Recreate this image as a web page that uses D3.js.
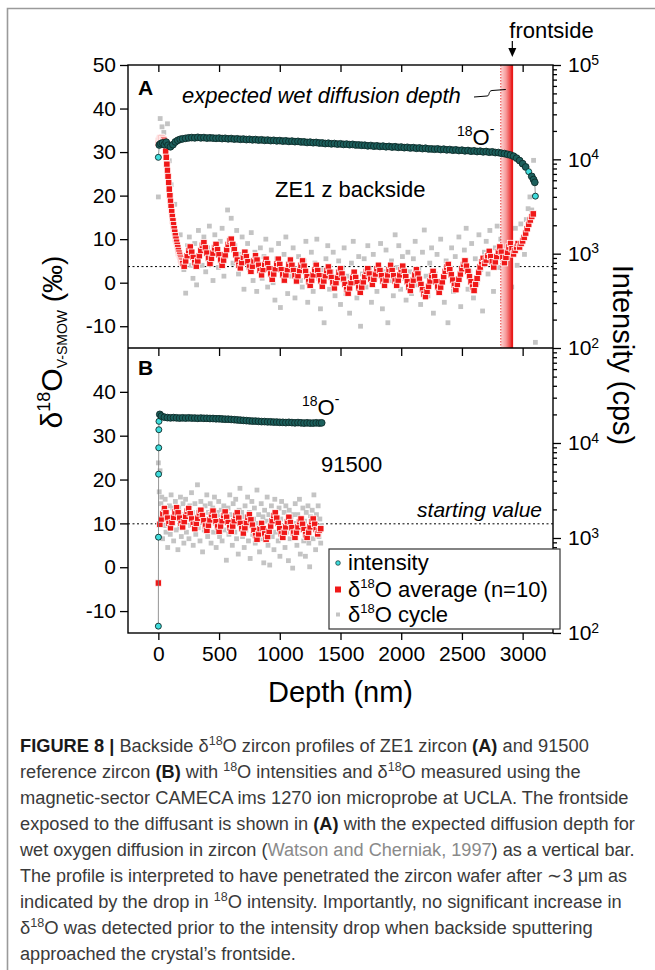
<!DOCTYPE html>
<html><head><meta charset="utf-8">
<script src="https://cdn.jsdelivr.net/npm/d3@7"></script>
<style>
html,body{margin:0;padding:0;background:#fff;}
svg{display:block;font-family:"Liberation Sans",Arial,sans-serif;}
</style></head><body>
<svg id="fig" width="655" height="970"></svg>
<script>
// ---------------- DATA ----------------
const depthTicks = [0, 500, 1000, 1500, 2000, 2500, 3000];
const deltaTicksA = [-10, 0, 10, 20, 30, 40, 50];
const deltaTicksB = [-10, 0, 10, 20, 30, 40];
const intensityTicksA = [1e2, 1e3, 1e4, 1e5];
const intensityTicksB = [1e2, 1e3, 1e4];
const intensityMinor = [2e2,3e2,4e2,5e2,6e2,7e2,8e2,9e2,2e3,3e3,4e3,5e3,6e3,7e3,8e3,9e3,2e4,3e4,4e4,5e4,6e4,7e4,8e4,9e4];
const depthDomain = [-250, 3250];
const deltaDomain = [-15, 50];
const intensityDomain = [1e2, 1e5];

// Panel A (ZE1 z backside) : 18O- intensity [depth nm, cps]
const intensityA = [[0,10500],[8,14200],[20,14700],[35,14900],[50,14300],[65,15200],[80,14100],[100,13600],[120,14300],[140,15300],[160,15900],[180,16300],[200,16500],[225,16700],[250,16900],[275,17000],[300,16900],[325,17100],[350,16900],[375,17000],[400,16800],[425,16900],[450,16800],[475,16700],[500,16800],[525,16600],[550,16700],[575,16500],[600,16600],[625,16400],[650,16500],[675,16300],[700,16400],[725,16200],[750,16300],[775,16100],[800,16200],[825,16000],[850,16100],[875,15900],[900,16000],[925,15800],[950,15900],[975,15700],[1000,15800],[1025,15600],[1050,15700],[1075,15500],[1100,15600],[1125,15400],[1150,15500],[1175,15300],[1200,15300],[1225,15100],[1250,15200],[1275,15000],[1300,15100],[1325,14900],[1350,14900],[1375,14700],[1400,14800],[1425,14600],[1450,14700],[1475,14500],[1500,14600],[1525,14400],[1550,14500],[1575,14300],[1600,14400],[1625,14200],[1650,14200],[1675,14100],[1700,14100],[1725,13900],[1750,14000],[1775,13800],[1800,13900],[1825,13700],[1850,13800],[1875,13600],[1900,13700],[1925,13500],[1950,13600],[1975,13400],[2000,13500],[2025,13300],[2050,13400],[2075,13200],[2100,13300],[2125,13100],[2150,13200],[2175,13000],[2200,13100],[2225,12900],[2250,12900],[2275,12800],[2300,12900],[2325,12700],[2350,12800],[2375,12600],[2400,12700],[2425,12500],[2450,12600],[2475,12400],[2500,12500],[2525,12300],[2550,12400],[2575,12200],[2600,12300],[2625,12100],[2650,12200],[2675,12000],[2700,12100],[2725,11900],[2750,12000],[2775,11800],[2800,11800],[2825,11600],[2850,11500],[2875,11300],[2900,11100],[2925,10800],[2950,10300],[2975,9700],[3000,9000],[3025,8300],[3050,7400],[3075,6600],[3090,6100],[3100,5700],[3105,4070]];
// Panel A: d18O average (n=10): steep initial drop, every 5 nm from 0 nm
const averageHeadStartA = 0, averageHeadStepA = 5;
const averageHeadA = [32.0,32.6,33.0,33.3,33.4,33.3,33.2,33.0,32.9,32.8,32.5,31.5,30.2,28.8,27.2,25.8,24.4,23.0,21.5,20.0,
  18.7,17.5,16.3,15.2,14.2,13.3,12.4,11.6,10.8,10.0,9.3,8.6,8.0,7.4,6.8,6.3,5.8,5.4,5.0,4.7,4.4];
// Panel A: d18O average (n=10), every 12.5 nm from 212.5 nm
const averageStartA = 212.5, averageStepA = 12.5;
const averageA = [3.8,5.0,6.2,7.4,8.2,7.0,5.8,
  4.6,3.8,5.0,6.2,7.4,8.6,9.2,8.0,6.8,5.6,4.4,5.6,6.8,8.0,8.8,7.6,6.4,5.2,4.0,5.2,6.4,7.6,8.8,9.6,
  10.0,8.8,7.6,6.4,5.2,4.0,3.4,4.6,5.8,7.0,6.0,4.8,3.6,2.6,3.8,5.0,6.2,5.2,4.0,2.8,1.8,3.0,4.2,5.4,
  4.4,3.2,2.0,0.8,2.0,3.2,4.4,5.4,4.2,3.0,1.8,0.6,1.8,3.0,4.2,5.2,4.0,2.8,1.6,0.4,1.6,2.8,4.0,5.0,
  3.8,2.6,1.4,0.2,-0.6,0.6,1.8,3.0,4.0,2.8,1.6,0.4,-0.8,0.4,1.6,2.8,3.6,2.4,1.2,0.0,-1.2,0.0,1.2,2.4,
  3.2,2.0,0.8,-0.4,-1.6,-2.4,-1.2,0.0,1.2,2.4,1.2,0.0,-1.2,-2.2,-1.0,0.2,1.4,2.6,3.2,2.0,0.8,-0.4,0.8,2.0,
  3.2,4.0,2.8,1.6,0.4,-0.6,0.6,1.8,3.0,4.0,2.8,1.6,0.4,-0.6,0.6,1.8,3.0,3.8,2.6,1.4,0.2,-1.0,-1.8,-0.6,
  0.6,1.8,3.0,2.0,0.8,-0.4,-1.6,-2.6,-3.2,-2.0,-0.8,0.4,1.6,2.6,1.4,0.2,-1.0,-2.2,-1.0,0.2,1.4,2.6,3.6,4.2,
  3.0,1.8,0.6,-0.6,-1.6,-0.4,0.8,2.0,3.2,4.2,5.0,3.8,2.6,1.4,0.2,-1.0,-1.8,-0.4,1.0,2.4,3.6,4.8,5.6,4.4,
  5.2,6.2,7.2,6.0,4.8,3.6,4.8,6.0,7.2,8.2,7.0,5.8,4.6,5.8,7.0,8.2,9.0,7.8,6.6,7.4,8.2,9.0,8.2,9.0,
  9.6,10.4,11.4,12.4,13.4,14.4,15.2,15.8];
// Panel A: d18O per cycle, one value every 15 nm from 0 nm
const cycleStartA = 0, cycleStepA = 15;
const cycleA = [19.7,37.7,35.8,34.5,30.0,36.5,28.0,22.5,12.8,18.0,9.5,7.0,11.0,5.5,3.0,-2.4,8.5,10.5,4.0,1.0,
  9.0,-0.5,12.0,6.5,4.0,10.5,2.5,8.0,13.0,5.0,0.5,11.0,7.5,3.5,9.5,12.5,1.5,6.0,16.7,10.0,
  14.8,4.5,8.5,12.0,2.0,6.5,10.5,-1.5,5.0,9.0,3.0,11.5,0.5,7.0,-2.0,4.5,8.0,1.0,6.0,10.0,
  -1.0,3.5,7.5,0.0,-4.0,5.5,9.0,-5.7,2.5,6.5,10.5,-2.5,4.0,1.5,8.0,-3.5,3.0,6.0,0.5,-1.0,
  5.0,9.5,-4.5,2.0,7.0,-2.0,4.5,10.0,1.0,-6.0,3.0,-9.2,5.5,8.5,-1.5,2.5,7.0,-3.0,0.0,5.0,
  -5.0,3.5,8.0,-2.5,1.5,-7.0,4.5,9.5,0.0,-3.5,6.0,-10.0,2.0,5.5,-1.0,8.5,3.0,-4.5,6.5,1.0,
  -2.0,4.0,9.0,-6.0,2.5,7.5,-9.2,0.5,5.0,-3.0,11.0,3.5,8.5,-1.5,6.0,1.0,-4.0,7.0,2.5,-2.5,
  5.5,9.5,-0.5,3.0,-5.0,7.0,12.1,1.5,-3.0,4.5,8.0,-7.0,2.0,6.5,-1.0,10.0,0.5,-4.5,5.0,-9.2,
  3.5,8.0,-2.0,6.0,1.0,10.5,-5.5,4.0,7.5,12.5,-1.5,2.5,9.0,-3.5,5.5,0.0,11.0,3.0,-6.5,7.0,
  9.5,2.0,12.0,5.0,-2.0,8.0,13.0,3.5,10.0,-3.9,6.5,11.5,1.0,9.0,-1.0,7.5,12.5,4.0,8.5,13.5,
  10.0,6.5,14.5,17.0,19.7,16.7,28.1,-13.7];

// Panel B (91500)
const intensityB = [[0,118],[1,1020],[2,4700],[3,8900],[4,13800],[5,16900],[12,20000],[25,19200],[50,18700],[75,18500],[100,18400],[125,18500],[150,18400],[175,18300],[200,18400],[225,18300],[250,18400],[275,18300],[300,18300],[325,18200],[350,18300],[375,18200],[400,18200],[425,18100],[450,18100],[475,18000],[500,18000],[525,17900],[550,17800],[575,17800],[600,17700],[625,17600],[650,17500],[675,17400],[700,17300],[725,17200],[750,17100],[775,17000],[800,17000],[825,16900],[850,16800],[875,16800],[900,16700],[925,16700],[950,16600],[975,16600],[1000,16500],[1025,16500],[1050,16400],[1075,16500],[1100,16400],[1125,16300],[1150,16400],[1175,16300],[1200,16200],[1225,16300],[1250,16200],[1275,16200],[1300,16300],[1325,16200],[1345,16300]];
const averageStartB = 0, averageStepB = 12.5;
const averageB = [-3.6,9.8,11.0,12.2,13.4,12.4,11.2,10.0,9.0,10.2,11.4,12.6,13.6,12.4,11.2,10.0,9.2,10.4,11.6,12.8,13.4,12.2,11.0,9.8,
  8.8,10.0,11.2,12.4,13.0,11.8,10.6,9.4,8.4,9.6,10.8,12.0,12.8,11.6,10.4,9.2,8.2,9.4,10.6,11.8,12.6,11.4,10.2,9.0,
  8.2,9.4,10.6,11.8,12.4,11.2,10.0,8.8,7.8,9.0,10.2,11.4,12.0,10.8,9.6,8.4,7.2,6.4,7.6,8.8,10.0,8.8,7.6,6.4,
  7.0,8.2,9.4,10.6,11.8,12.4,11.2,10.0,8.8,7.6,6.8,8.0,9.2,10.4,11.4,10.2,9.0,7.8,6.8,8.0,9.2,10.4,11.0,9.8,
  8.6,7.4,6.8,8.0,9.2,10.4,11.0,9.8,8.6,7.6,8.4,8.8];
const cycleStartB = 0, cycleStepB = 7;
const cycleB = [23.8,17.2,22.0,14.5,16.0,6.5,13.0,9.5,15.5,8.0,12.5,4.5,11.0,14.0,7.5,16.5,10.0,13.5,6.0,12.0,
  15.0,8.5,11.5,4.0,13.5,9.0,16.0,7.0,12.0,14.5,5.5,10.5,15.5,8.0,13.0,11.0,6.5,14.0,9.5,17.0,
  12.5,5.0,10.0,14.5,7.5,11.5,18.8,9.0,13.0,6.0,15.0,10.5,3.5,12.0,8.5,14.0,11.0,16.5,7.0,12.5,
  9.5,14.5,5.5,11.0,13.5,8.0,16.0,10.0,4.5,12.5,9.0,15.0,7.0,11.5,13.0,6.0,10.5,14.0,8.5,12.0,
  1.6,10.0,13.5,7.5,16.5,9.0,12.0,5.0,14.5,11.0,8.0,15.5,6.5,10.5,3.0,13.0,18.0,9.5,12.5,7.0,
  11.5,4.5,14.0,8.5,10.0,16.0,6.0,12.5,2.0,9.5,15.0,7.5,11.0,13.5,5.5,10.0,17.6,8.0,12.0,3.5,
  9.0,14.5,6.5,11.5,1.0,13.0,8.5,10.5,16.0,5.0,12.0,0.5,9.5,14.0,7.0,11.0,4.0,15.5,8.0,12.5,
  10.0,6.0,13.5,2.5,11.0,15.0,7.5,9.0,12.5,4.5,14.0,8.0,10.5,1.5,13.0,6.5,11.5,9.5,-0.2,12.0,
  7.5,14.5,10.0,5.0,12.0,8.5,15.5,3.0,11.0,9.0,13.5,6.0,10.5,2.5,12.5,8.0,14.0,5.5,0.1,11.5,
  9.0,13.0,6.5,16.5,10.5,4.0,12.0,8.5,14.0,7.0,11.0,5.5,9.5];

const startingValueA = 3.7;
const startingValueB = 9.9;
const diffusionBar = [2820, 2915];   // expected wet diffusion depth (nm)
const frontsideDepth = 2915;

const legendItems = ["intensity", "average", "cycle"];

const captionLines = [
  [["b","FIGURE 8 | "],["t","Backside δ"],["s","18"],["t","O zircon profiles of ZE1 zircon "],["b","(A)"],["t"," and 91500"]],
  [["t","reference zircon "],["b","(B)"],["t"," with "],["s","18"],["t","O intensities and δ"],["s","18"],["t","O measured using the"]],
  [["t","magnetic-sector CAMECA ims 1270 ion microprobe at UCLA. The frontside"]],
  [["t","exposed to the diffusant is shown in "],["b","(A)"],["t"," with the expected diffusion depth for"]],
  [["t","wet oxygen diffusion in zircon ("],["l","Watson and Cherniak, 1997"],["t",") as a vertical bar."]],
  [["t","The profile is interpreted to have penetrated the zircon wafer after ∼3 μm as"]],
  [["t","indicated by the drop in "],["s","18"],["t","O intensity. Importantly, no significant increase in"]],
  [["t","δ"],["s","18"],["t","O was detected prior to the intensity drop when backside sputtering"]],
  [["t","approached the crystal’s frontside."]]
];
const captionRight = [589, 581, 629, 635, 635, 627, 622, 593, 296];

// ---------------- LAYOUT ----------------
const P = {left:128, right:553, topA:65, mid:348, bottom:633};
const svg = d3.select("#fig");
const FS = 21;

const x = d3.scaleLinear().domain(depthDomain).range([P.left, P.right]);
const yA = d3.scaleLinear().domain(deltaDomain).range([P.mid, P.topA]);
const yB = d3.scaleLinear().domain(deltaDomain).range([P.bottom, P.mid]);
const iA = d3.scaleLog().domain(intensityDomain).range([P.mid, P.topA]);
const iB = d3.scaleLog().domain(intensityDomain).range([P.bottom, P.mid]);

svg.append("rect").attr("width",655).attr("height",970).attr("fill","#fff");
svg.append("path").attr("d","M7.5,970 V8.5 H655").attr("fill","none").attr("stroke","#9a9a9a").attr("stroke-width",1.6);

const defs = svg.append("defs");
defs.append("clipPath").attr("id","clipA").append("rect")
  .attr("x",P.left).attr("y",P.topA).attr("width",P.right-P.left).attr("height",P.mid-P.topA);
defs.append("clipPath").attr("id","clipB").append("rect")
  .attr("x",P.left).attr("y",P.mid).attr("width",P.right-P.left).attr("height",P.bottom-P.mid);
const grad = defs.append("linearGradient").attr("id","barGrad").attr("x1","0").attr("x2","1").attr("y1","0").attr("y2","0");
grad.append("stop").attr("offset","0%").attr("stop-color","#fcd6d6");
grad.append("stop").attr("offset","45%").attr("stop-color","#f79a9a");
grad.append("stop").attr("offset","80%").attr("stop-color","#ef4a4a");
grad.append("stop").attr("offset","100%").attr("stop-color","#e81e1e");

const GRAY = "#c4c4c4", RED = "#f01818", CYAN = "#3fdcdc", TEAL = "#1c5f5c", TEAL_STROKE = "#0c2b29";

function seq(vals, start, step) { return vals.map((v,i)=>[start+i*step, v]); }

function drawPanel(key, yS, iS, cyc, avg, inten, startVal, withBar) {
  const g = svg.append("g").attr("clip-path", `url(#clip${key})`);
  g.append("line").attr("x1",P.left).attr("x2",P.right)
    .attr("y1",yS(startVal)).attr("y2",yS(startVal))
    .attr("stroke","#000").attr("stroke-width",1).attr("stroke-dasharray","2,2.5");
  const cs = 4.8;
  g.append("g").selectAll("rect").data(cyc).join("rect")
    .attr("x",d=>x(d[0])-cs/2).attr("y",d=>yS(d[1])-cs/2)
    .attr("width",cs).attr("height",cs).attr("fill",GRAY);
  if (withBar) {
    const bx0 = x(diffusionBar[0]), bx1 = x(diffusionBar[1]);
    g.append("rect").attr("x",bx0).attr("y",P.topA).attr("width",bx1-bx0).attr("height",P.mid-P.topA)
      .attr("fill","url(#barGrad)");
    g.append("line").attr("x1",bx0).attr("x2",bx0).attr("y1",P.topA).attr("y2",P.mid)
      .attr("stroke","#e82020").attr("stroke-width",0.9).attr("stroke-dasharray","1.5,1.5");
    g.append("line").attr("x1",bx1).attr("x2",bx1).attr("y1",P.topA).attr("y2",P.mid)
      .attr("stroke","#e81818").attr("stroke-width",1.6);
  }
  const as = 6.4;
  g.append("g").selectAll("rect").data(avg).join("rect")
    .attr("x",d=>x(d[0])-as/2).attr("y",d=>yS(d[1])-as/2)
    .attr("width",as).attr("height",as).attr("fill",RED)
    .attr("stroke","#fff").attr("stroke-width",0.8);
  g.append("path").datum(inten)
    .attr("d", d3.line().x(d=>x(d[0])).y(d=>iS(d[1])))
    .attr("fill","none").attr("stroke","#7a7a7a").attr("stroke-width",0.8);
  // markers overlapping their neighbours closely read as a dark band; isolated ones stay cyan
  const px = inten.map(d=>[x(d[0]), iS(d[1])]);
  const isolated = px.map((p,i)=>{
    const dist = q => q ? Math.hypot(q[0]-p[0], q[1]-p[1]) : Infinity;
    return Math.min(dist(px[i-1]), dist(px[i+1])) > 4.5;
  });
  g.append("g").selectAll("circle").data(inten).join("circle")
    .attr("cx",d=>x(d[0])).attr("cy",d=>iS(d[1])).attr("r",(d,i)=>isolated[i]?3:3.4)
    .attr("fill",(d,i)=>isolated[i]?CYAN:TEAL).attr("stroke",TEAL_STROKE).attr("stroke-width",0.9);
}
drawPanel("A", yA, iA, seq(cycleA,cycleStartA,cycleStepA),
  seq(averageHeadA,averageHeadStartA,averageHeadStepA).concat(seq(averageA,averageStartA,averageStepA)),
  intensityA, startingValueA, true);
drawPanel("B", yB, iB, seq(cycleB,cycleStartB,cycleStepB), seq(averageB,averageStartB,averageStepB),
  intensityB, startingValueB, false);

// ---------------- AXES ----------------
function styleAxis(g) {
  g.attr("font-size",FS).attr("font-family","Liberation Sans, Arial, sans-serif");
  g.selectAll("path.domain").remove();
  g.selectAll("line").attr("stroke","#000").attr("stroke-width",1.3);
  g.selectAll("text").attr("fill","#000");
}
const fmtPlain = d => String(d);
svg.append("g").attr("transform",`translate(${P.left},0)`)
  .call(d3.axisLeft(yA).tickValues(deltaTicksA).tickFormat(fmtPlain).tickSize(8).tickPadding(4)).call(styleAxis);
svg.append("g").attr("transform",`translate(${P.left},0)`)
  .call(d3.axisLeft(yB).tickValues(deltaTicksB).tickFormat(fmtPlain).tickSize(8).tickPadding(4)).call(styleAxis);
svg.append("g").attr("transform",`translate(0,${P.bottom})`)
  .call(d3.axisBottom(x).tickValues(depthTicks).tickFormat(fmtPlain).tickSize(7).tickPadding(6)).call(styleAxis);
svg.append("g").attr("transform",`translate(0,${P.topA})`)
  .call(d3.axisBottom(x).tickValues(depthTicks).tickFormat("").tickSize(7)).call(styleAxis);
svg.append("g").attr("transform",`translate(0,${P.mid})`)
  .call(d3.axisBottom(x).tickValues(depthTicks).tickFormat("").tickSize(8)).call(styleAxis);

function powLabel(sel) {
  sel.selectAll(".tick text").each(function(d){
    const t = d3.select(this); const e = Math.round(Math.log10(d));
    t.text(null);
    t.append("tspan").text("10");
    t.append("tspan").text(e).attr("font-size",14).attr("dy","-0.55em");
  });
}
[[iA,intensityTicksA],[iB,intensityTicksB]].forEach(([s,t])=>{
  svg.append("g").attr("transform",`translate(${P.right},0)`)
    .call(d3.axisRight(s).tickValues(t).tickFormat(fmtPlain).tickSize(8).tickPadding(7)).call(styleAxis).call(powLabel);
  svg.append("g").attr("transform",`translate(${P.right},0)`)
    .call(d3.axisRight(s).tickValues(intensityMinor).tickFormat("").tickSize(4)).call(styleAxis);
});

svg.append("rect").attr("x",P.left).attr("y",P.topA).attr("width",P.right-P.left).attr("height",P.bottom-P.topA)
  .attr("fill","none").attr("stroke","#000").attr("stroke-width",1.4);
svg.append("line").attr("x1",P.left).attr("x2",P.right).attr("y1",P.mid).attr("y2",P.mid)
  .attr("stroke","#000").attr("stroke-width",1.4);

// axis titles
const yt = svg.append("text").attr("transform","translate(62,342) rotate(-90)").attr("text-anchor","middle").attr("fill","#000");
yt.append("tspan").text("δ").attr("font-size",30);
yt.append("tspan").text("18").attr("font-size",18).attr("dy",-12);
yt.append("tspan").text("O").attr("font-size",30).attr("dy",12);
yt.append("tspan").text("V-SMOW").attr("font-size",14).attr("dy",5);
yt.append("tspan").text(" (‰)").attr("font-size",28).attr("dy",-5);
svg.append("text").attr("transform","translate(613,355) rotate(90)").attr("text-anchor","middle")
  .attr("font-size",29).text("Intensity (cps)");
svg.append("text").attr("x",(P.left+P.right)/2).attr("y",702).attr("text-anchor","middle")
  .attr("font-size",29).text("Depth (nm)");

// ---------------- ANNOTATIONS ----------------
svg.append("text").attr("x",138).attr("y",95).attr("font-weight","bold").attr("font-size",FS).text("A");
svg.append("text").attr("x",138).attr("y",375).attr("font-weight","bold").attr("font-size",FS).text("B");
svg.append("text").attr("x",182).attr("y",103).attr("font-style","italic").attr("font-size",22)
  .text("expected wet diffusion depth");
{
  const bx = x(diffusionBar[0]);
  svg.append("path").attr("d",`M474,97 L487,96 C490,96 488,91 492,90.5 L${bx+5},89.5`)
    .attr("fill","none").attr("stroke","#000").attr("stroke-width",1);
  const fx = x(frontsideDepth);
  svg.append("text").attr("x",fx-3).attr("y",38).attr("font-size",22).text("frontside");
  svg.append("line").attr("x1",fx).attr("x2",fx).attr("y1",41).attr("y2",49).attr("stroke","#000").attr("stroke-width",1.2);
  svg.append("path").attr("d",`M${fx-4},48 L${fx+4},48 L${fx},57 Z`).attr("fill","#000");
}
function isoLabel(xp, yp) {
  const t = svg.append("text").attr("x",xp).attr("y",yp).attr("font-size",22);
  t.append("tspan").text("18").attr("font-size",14).attr("dy",-9);
  t.append("tspan").text("O").attr("dy",9);
  t.append("tspan").text("-").attr("font-size",14).attr("dy",-11);
}
isoLabel(457, 145);
isoLabel(302, 415);
svg.append("text").attr("x",275).attr("y",197).attr("font-size",22).text("ZE1 z backside");
svg.append("text").attr("x",321).attr("y",472).attr("font-size",22).text("91500");
svg.append("text").attr("x",542).attr("y",517).attr("text-anchor","end").attr("font-style","italic").attr("font-size",21).text("starting value");

// ---------------- LEGEND ----------------
const lg = svg.append("g");
lg.append("rect").attr("x",329).attr("y",549).attr("width",231).attr("height",80)
  .attr("fill","#fff").attr("stroke","#333").attr("stroke-width",1.2);
const lgY = [570, 596.5, 621.5];
legendItems.forEach((k,i)=>{
  const cy = lgY[i]-7;
  if (k==="intensity") lg.append("circle").attr("cx",338).attr("cy",cy).attr("r",2.3).attr("fill",CYAN).attr("stroke",TEAL_STROKE).attr("stroke-width",0.7);
  if (k==="average") lg.append("rect").attr("x",335).attr("y",cy-3).attr("width",6).attr("height",6).attr("fill",RED);
  if (k==="cycle") lg.append("rect").attr("x",336).attr("y",cy-2).attr("width",4).attr("height",4).attr("fill",GRAY);
  const t = lg.append("text").attr("x",348).attr("y",lgY[i]).attr("font-size",22);
  if (k==="intensity") t.text("intensity");
  else {
    t.append("tspan").text("δ");
    t.append("tspan").text("18").attr("font-size",13).attr("dy",-9);
    t.append("tspan").text(k==="average" ? "O average (n=10)" : "O cycle").attr("dy",9);
  }
});

// ---------------- CAPTION ----------------
const capLeft = 20;
captionLines.forEach((segs, i) => {
  const t = svg.append("text").attr("x",0).attr("y",0)
    .attr("font-family","'Liberation Sans Narrow','Liberation Sans',sans-serif")
    .attr("font-size",19).attr("fill","#3a3a3a");
  let up = false;
  segs.forEach(([k, s]) => {
    const sp = t.append("tspan").text(s);
    if (k==="b") sp.attr("font-weight","bold").attr("fill","#1a1a1a");
    if (k==="l") sp.attr("fill","#8a8a8a");
    if (k==="s") { sp.attr("font-size",13).attr("dy",-7); up = true; }
    else if (up) { sp.attr("dy",7); up = false; }
  });
  const w = t.node().getComputedTextLength();
  const k = (captionRight[i]-capLeft)/w;
  t.attr("transform",`translate(${capLeft},${752+26*i}) scale(${k},1)`);
});
</script>
</body></html>
